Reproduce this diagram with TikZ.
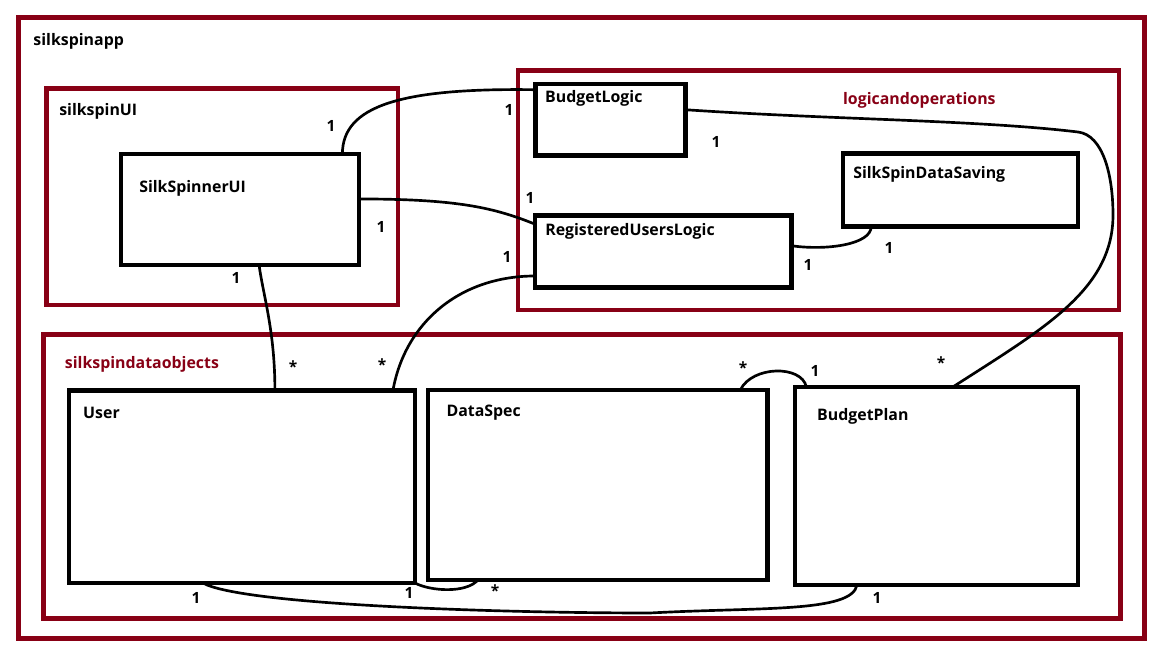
\documentclass[tikz,border=0pt]{standalone}
\usepackage{fontspec}
\setmainfont{Open Sans}
\usetikzlibrary{positioning}
\usetikzlibrary{calc}
\definecolor{pkgred}{RGB}{136,0,21}

\begin{document}
\begin{tikzpicture}[x=0.025cm,y=-0.025cm,
  pkg/.style={draw=pkgred,line width=3.3pt,inner sep=0pt,outer sep=0pt,anchor=north west},
  cls/.style={draw=black,line width=3pt,inner sep=0pt,outer sep=0pt,anchor=north west},
  title/.style={inner sep=0pt,font=\fontsize{11.3}{13}\selectfont\bfseries},
  conn/.style={line width=1.9pt},
  mult/.style={inner sep=0pt,font=\fontsize{11}{13}\selectfont\bfseries}]

\useasboundingbox (0,0) rectangle (1152,648);

%% packages
\node[pkg, minimum width=28.15cm, minimum height=15.52cm] (app) at (18.3,17.5) {};
\node[pkg, minimum width=8.7875cm, minimum height=5.4175cm] (ui) at (46.5,88.3) {};
\node[pkg, minimum width=15.025cm, minimum height=5.98cm] (logic) at (518,70.8) {};
\node[pkg, minimum width=26.93cm, minimum height=7.09cm] (data) at (43.2,334.7) {};

\node[title, below right=11pt and 10.6pt of app.north west] (app-t) {silkspinapp};
\node[title, below right=10.6pt and 8.9pt of ui.north west] (ui-t) {silkspinUI};
\node[title, pkgred, below right=15.5pt and 231pt of logic.north west] (logic-t) {logicandoperations};
\node[title, pkgred, below right=14.9pt and 15.3pt of data.north west] (data-t) {silkspindataobjects};

%% classes
\node[cls, minimum width=5.95cm, minimum height=2.775cm] (sui) at (121,154) {};
\node[cls, minimum width=3.75cm, minimum height=1.7875cm] (bl) at (535.5,84) {};
\node[cls, minimum width=6.4125cm, minimum height=1.8cm] (rul) at (535,215.5) {};
\node[cls, minimum width=5.875cm, minimum height=1.825cm] (ssds) at (843,153.5) {};
\node[cls, minimum width=8.65cm, minimum height=4.8125cm] (user) at (69,390.5) {};
\node[cls, minimum width=8.48cm, minimum height=4.75cm] (ds) at (428.3,389.7) {};
\node[cls, minimum width=7.0825cm, minimum height=4.95cm] (bp) at (795,386.8) {};

\node[title, below right=18.4pt and 12.8pt of sui.north west] (sui-t) {SilkSpinnerUI};
\node[title, below right=4.7pt and 6.7pt of bl.north west] (bl-t) {BudgetLogic};
\node[title, below right=5.3pt and 7.1pt of rul.north west] (rul-t) {RegisteredUsersLogic};
\node[title, below right=9.2pt and 7.1pt of ssds.north west] (ssds-t) {SilkSpinDataSaving};
\node[title, below right=12pt and 9.9pt of user.north west] (user-t) {User};
\node[title, below right=10.6pt and 12.8pt of ds.north west] (ds-t) {DataSpec};
\node[title, below right=14.9pt and 15.6pt of bp.north west] (bp-t) {BudgetPlan};

%% associations
\coordinate (blbend) at (1078,132);
\coordinate (blturn) at (1113,215);
\coordinate (dip) at (650,613);

\draw[conn] ($(sui.north west)!0.93!(sui.north east)$) .. controls +(0,-48) and +(-135,-2) .. ($(bl.north west)!0.08!(bl.south west)$);
\draw[conn] ($(sui.north east)!0.405!(sui.south east)$) .. controls +(100,0) and +(-40,-16) .. ($(rul.north west)!0.12!(rul.south west)$);
\draw[conn] ($(rul.north west)!0.84!(rul.south west)$) .. controls +(-75,0) and +(12,-68) .. ($(user.north west)!0.936!(user.north east)$);
\draw[conn] ($(sui.south west)!0.58!(sui.south east)$) .. controls +(4,30) and +(0,-60) .. ($(user.north west)!0.595!(user.north east)$);
\draw[conn] ($(rul.north east)!0.42!(rul.south east)$) .. controls +(35,5) and +(0,18) .. ($(ssds.south west)!0.12!(ssds.south east)$);
\draw[conn] ($(bl.north east)!0.36!(bl.south east)$) .. controls +(150,10) and +(-100,-12) .. (blbend)
  .. controls +(25,3) and +(0,-40) .. (blturn)
  .. controls +(0,75) and +(90,-58) .. ($(bp.north west)!0.558!(bp.north east)$);
\draw[conn] ($(ds.north west)!0.92!(ds.north east)$) .. controls +(12,-24) and +(-5,-22) .. ($(bp.north west)!0.04!(bp.north east)$);
\draw[conn] (user.south east) .. controls +(15,8) and +(-12,14) .. ($(ds.south west)!0.147!(ds.south east)$);
\draw[conn] ($(user.south west)!0.387!(user.south east)$) .. controls +(40,22) and +(-150,0) .. (dip)
  .. controls +(110,-6) and +(-5,28) .. ($(bp.south west)!0.219!(bp.south east)$);

% multiplicities
\node[mult] (m1) at (331,126) {1};
\node[mult] (m2) at (509,110) {1};
\node[mult] (m3) at (530,198) {1};
\node[mult] (m4) at (381,227) {1};
\node[mult] (m5) at (507,257) {1};
\node[mult] (m6) at (236,278) {1};
\node[mult] (m7) at (293,367) {*};
\node[mult] (m8) at (382,365) {*};
\node[mult] (m9) at (716,142) {1};
\node[mult] (m10) at (808,265) {1};
\node[mult] (m11) at (889,248) {1};
\node[mult] (m12) at (941,363) {*};
\node[mult] (m13) at (743,368) {*};
\node[mult] (m14) at (815,371) {1};
\node[mult] (m15) at (409,593) {1};
\node[mult] (m16) at (495,591) {*};
\node[mult] (m17) at (196,598) {1};
\node[mult] (m18) at (877,598) {1};
\end{tikzpicture}
\end{document}
